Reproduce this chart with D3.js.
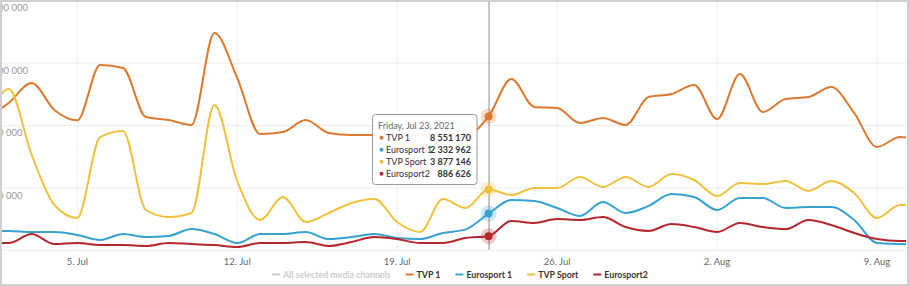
<!DOCTYPE html>
<html>
<head>
<meta charset="utf-8">
<script src="https://cdn.jsdelivr.net/npm/d3@7"></script>
<style>
  body { margin: 0; background: #fff; }
  svg { display: block; font-family: Lato, "Open Sans", sans-serif; }
</style>
</head>
<body>
<svg id="chart" width="909" height="286"></svg>
<script>
// daily audience, Jul 1 .. Aug 11 2021
const startDate = new Date(2021, 6, 1);
const endDate = new Date(2021, 7, 12);
const days = d3.timeDay.range(startDate, endDate);

const seriesNames = ["TVP 1", "Eurosport 1", "TVP Sport", "Eurosport2"];
const seriesColors = ["#dc7a30", "#37a1cf", "#eec23f", "#b5262c"];

const tvp1 = [8450000, 9410000, 10690000, 8960000, 8300000, 11840000, 11650000, 8510000, 8320000, 8000000,
  13890000, 11010000, 7420000, 7550000, 8320000, 7490000, 7360000, 7360000, 7360000, 7360000,
  7300000, 7300000, 8551170, 10940000, 9150000, 9090000, 8130000, 8450000, 8000000, 9790000,
  9980000, 10560000, 8380000, 11260000, 8830000, 9660000, 9790000, 10430000, 8770000, 6590000,
  7230000, 7040000];
const eurosport1 = [1220000, 1220000, 1150000, 1150000, 960000, 640000, 1020000, 830000, 900000, 1340000,
  1020000, 450000, 1020000, 1020000, 1150000, 700000, 830000, 1020000, 770000, 700000,
  1090000, 1320000, 2332962, 3200000, 3140000, 2690000, 2180000, 3070000, 2370000, 2820000,
  3580000, 3390000, 2560000, 3330000, 3330000, 2690000, 2750000, 2750000, 1920000, 450000,
  380000, 380000];
const tvpSport = [8000000, 10300000, 6100000, 2880000, 2050000, 7230000, 7620000, 2560000, 2110000, 2370000,
  9280000, 4400000, 1920000, 3390000, 1790000, 2370000, 3010000, 3260000, 1790000, 1150000,
  3260000, 2690000, 3877146, 3520000, 3970000, 3970000, 4670000, 4030000, 4670000, 4030000,
  4860000, 4480000, 3460000, 4290000, 4220000, 4420000, 3780000, 4420000, 3650000, 2050000,
  2880000, 2880000];
const eurosport2 = [450000, 450000, 1020000, 380000, 450000, 320000, 320000, 260000, 450000, 380000,
  320000, 190000, 450000, 450000, 510000, 260000, 510000, 830000, 700000, 450000,
  450000, 770000, 886626, 1860000, 1730000, 1980000, 1920000, 2110000, 1470000, 1220000,
  1660000, 1470000, 1150000, 1730000, 1470000, 1340000, 1920000, 1600000, 1090000, 700000,
  580000, 580000];

const seriesValues = [tvp1, eurosport1, tvpSport, eurosport2];
const yTicks = [0, 4000000, 8000000, 12000000, 16000000];
const hoverDate = new Date(2021, 6, 23);

const svg = d3.select("#chart");

const x = d3.scaleTime()
  .domain([new Date(2021, 6, 5), new Date(2021, 7, 9)])
  .range([77.3, 877]);
const y = d3.scaleLinear()
  .domain([0, 16000000])
  .range([250, 0]);

const fmtNum = d3.formatLocale({ decimal: ".", thousands: " ", grouping: [3], currency: ["", ""] }).format(",");
const fmtTick = d3.timeFormat("%-d. %b");

svg.append("defs").append("clipPath").attr("id", "plotClip")
  .append("rect").attr("x", 2).attr("y", 0).attr("width", 904).attr("height", 284);

const plot = svg.append("g").attr("clip-path", "url(#plotClip)");

// grid
const xTicks = x.ticks(d3.timeMonday.every(1));
plot.append("g").selectAll("line").data(xTicks).join("line")
  .attr("x1", d => x(d)).attr("x2", d => x(d))
  .attr("y1", 0).attr("y2", 250)
  .attr("stroke", "#efefef");
plot.append("g").selectAll("line").data(yTicks).join("line")
  .attr("x1", 0).attr("x2", 909)
  .attr("y1", d => y(d) + 0.5).attr("y2", d => y(d) + 0.5)
  .attr("stroke", "#ececec");

// y labels: left aligned, the plot's left part is cut off in the screenshot
const yLabels = plot.append("g").selectAll("text").data(yTicks.filter(d => d > 0)).join("text")
  .attr("y", d => y(d) + 11)
  .attr("font-size", 9.5).attr("fill", "#999")
  .text(d => fmtNum(d));
const longest = d3.max(yLabels.nodes(), n => n.getComputedTextLength());
yLabels.attr("x", 28 - longest);

// x labels
svg.append("g").selectAll("text").data(xTicks).join("text")
  .attr("x", d => x(d)).attr("y", 264.5)
  .attr("text-anchor", "middle").attr("font-size", 9.5).attr("fill", "#666")
  .text(d => fmtTick(d));

// lines
const line = d3.line()
  .x((d, i) => x(days[i]))
  .y(d => y(d))
  .curve(d3.curveMonotoneX);

plot.append("g").selectAll("path").data(seriesValues).join("path")
  .attr("d", d => line(d))
  .attr("fill", "none")
  .attr("stroke", (d, i) => seriesColors[i])
  .attr("stroke-width", 2);

// crosshair + hover markers
const hi = d3.bisector(d => d).left(days, hoverDate);
plot.append("line")
  .attr("x1", x(hoverDate) + 0.5).attr("x2", x(hoverDate) + 0.5)
  .attr("y1", 0).attr("y2", 250)
  .attr("stroke", "#8c8c8c").attr("stroke-width", 1);

const markers = plot.append("g").selectAll("g").data(seriesValues).join("g")
  .attr("transform", d => `translate(${x(hoverDate)},${y(d[hi])})`);
markers.append("circle").attr("r", 8)
  .attr("fill", (d, i) => seriesColors[i]).attr("opacity", 0.25);
markers.append("circle").attr("r", 4)
  .attr("fill", (d, i) => seriesColors[i]);

// tooltip
const tip = svg.append("g").attr("transform", "translate(372.5,114.5)");
tip.append("rect")
  .attr("width", 104.5).attr("height", 70)
  .attr("rx", 3)
  .attr("fill", "rgba(255,255,255,0.93)")
  .attr("stroke", "#9a9a9a");
tip.append("text")
  .attr("x", 5.5).attr("y", 14.5)
  .attr("font-size", 9).attr("fill", "#666")
  .text(d3.timeFormat("%A, %b %d, %Y")(hoverDate));
const rows = tip.selectAll("g.row").data(seriesNames).join("g")
  .attr("class", "row")
  .attr("transform", (d, i) => `translate(0,${26.5 + i * 12})`);
rows.append("circle").attr("cx", 9).attr("cy", -3.2).attr("r", 2)
  .attr("fill", (d, i) => seriesColors[i]);
rows.append("text").attr("x", 13.5).attr("font-size", 9).attr("fill", "#333")
  .text(d => d);
rows.append("text").attr("x", 98.5).attr("text-anchor", "end")
  .attr("font-size", 9).attr("font-weight", "bold").attr("fill", "#333")
  .text((d, i) => fmtNum(seriesValues[i][hi]));

// legend
const legendItems = [{ name: "All selected media channels", color: "#ccc", text: "#ccc" }]
  .concat(seriesNames.map((n, i) => ({ name: n, color: seriesColors[i], text: "#333" })));
let lx = 272;
legendItems.forEach(item => {
  svg.append("line")
    .attr("x1", lx).attr("x2", lx + 8)
    .attr("y1", 274.5).attr("y2", 274.5)
    .attr("stroke", item.color).attr("stroke-width", 2);
  const t = svg.append("text")
    .attr("x", lx + 11).attr("y", 278)
    .attr("font-size", 8.8).attr("font-weight", "bold").attr("fill", item.text)
    .text(item.name);
  lx += 11 + t.node().getComputedTextLength() + 15;
});

// screenshot frame
svg.append("rect")
  .attr("x", 1).attr("y", 1).attr("width", 907).attr("height", 284)
  .attr("fill", "none").attr("stroke", "#cfcfcf").attr("stroke-width", 2);
</script>
</body>
</html>
